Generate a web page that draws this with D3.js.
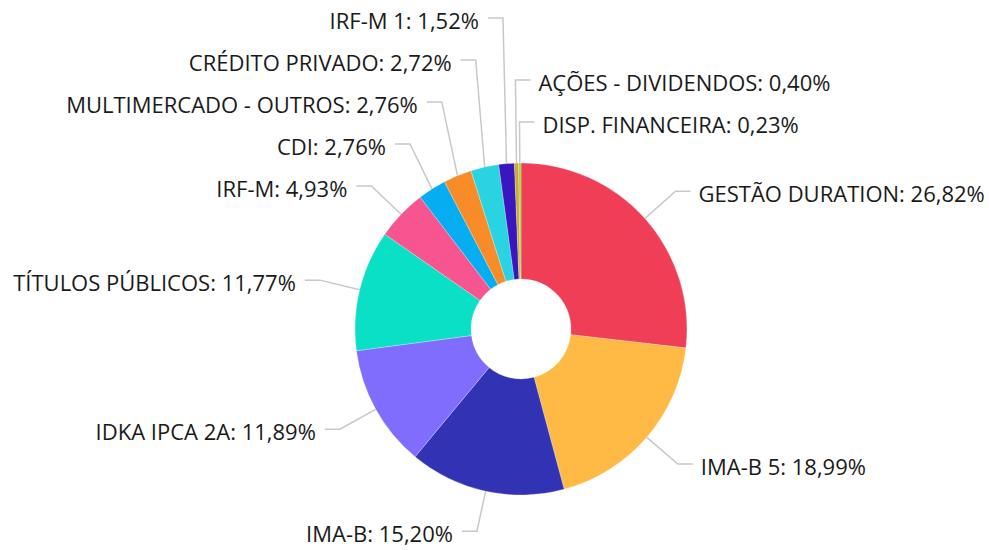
<!DOCTYPE html>
<html>
<head>
<meta charset="utf-8">
<script src="https://cdn.jsdelivr.net/npm/d3@7"></script>
<style>
  body { margin: 0; background: #fff; }
  text { font-family: "Open Sans", sans-serif; }
</style>
</head>
<body>
<div id="chart"></div>
<script>
/* Donut chart of portfolio allocation */

const categories = ["GESTÃO DURATION", "IMA-B 5", "IMA-B", "IDKA IPCA 2A", "TÍTULOS PÚBLICOS",
    "IRF-M", "CDI", "MULTIMERCADO - OUTROS", "CRÉDITO PRIVADO", "IRF-M 1",
    "AÇÕES - DIVIDENDOS", "DISP. FINANCEIRA"];
const values = [26.82, 18.99, 15.20, 11.89, 11.77, 4.93, 2.76, 2.76, 2.72, 1.52, 0.40, 0.23];
const colors = ["#ef3e55", "#ffb945", "#3232b5", "#806dfe", "#0ae0c5", "#f7558f",
    "#06aef1", "#f78c28", "#29d3e1", "#3a16bf", "#c9aa34", "#a3d534"];

const data = categories.map((c, i) => ({ name: c, value: values[i], color: colors[i] }));

//sizes
const width = 989,
      height = 550,
      cx = 521, cy = 329,
      outer = 166, inner = 50,
      labelR = 207,
      gap = 42;

let svg = d3.select("#chart")
    .append("svg")
    .attr("width", width)
    .attr("height", height);

let pie = d3.pie().value(d => d.value).sort(null);
let arcs = pie(data);

let arc = d3.arc().innerRadius(inner).outerRadius(outer);

let g = svg.append("g").attr("transform", `translate(${cx},${cy})`);

g.selectAll("path")
    .data(arcs)
    .join("path")
    .attr("d", arc)
    .attr("fill", d => d.data.color)
    .attr("stroke", "#fff")
    .attr("stroke-opacity", 0.5)
    .attr("stroke-width", 0.5);

//natural label positions
let fmt = v => v.toFixed(2).replace(".", ",") + "%";
let labels = arcs.map(d => {
    let a = (d.startAngle + d.endAngle) / 2;
    let x = labelR * Math.sin(a), y = -labelR * Math.cos(a);
    let right = x >= -10;
    return {
        //angle measured so that it grows going down each side
        key: right ? (a > Math.PI ? a - 2 * Math.PI : a) : -a,
        x: x, y: y,
        sx: outer * Math.sin(a), sy: -outer * Math.cos(a),
        right: right,
        text: d.data.name + ": " + fmt(d.data.value)
    };
});

//push labels apart, working from the bottom up on each side
[true, false].forEach(side => {
    let s = labels.filter(l => l.right === side).sort((p, q) => q.key - p.key);
    for (let i = 1; i < s.length; i++) {
        if (s[i].y > s[i - 1].y - gap) s[i].y = s[i - 1].y - gap;
    }
});

let lab = g.selectAll(".lab")
    .data(labels)
    .join("g")
    .attr("class", "lab");

lab.append("polyline")
    .attr("points", d => {
        let ex = d.x + (d.right ? 15 : -15);
        return [[d.sx, d.sy], [d.x, d.y], [ex, d.y]].map(p => p.join(",")).join(" ");
    })
    .attr("fill", "none")
    .attr("stroke", "#c8c8c8")
    .attr("stroke-width", 1.5);

lab.append("text")
    .text(d => d.text)
    .attr("x", d => d.x + (d.right ? 23 : -24))
    .attr("y", d => d.y)
    .attr("dy", "0.48em")
    .attr("text-anchor", d => d.right ? "start" : "end")
    .style("font-size", "22px")
    .style("fill", "#1a1a1a");
</script>
</body>
</html>
